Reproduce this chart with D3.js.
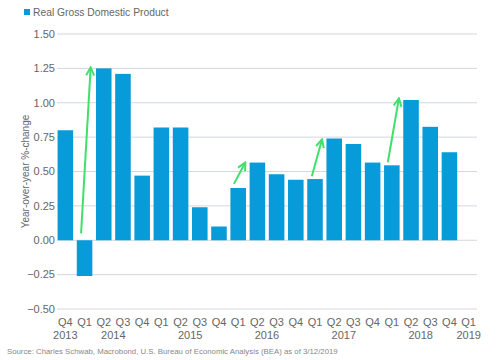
<!DOCTYPE html>
<html><head><meta charset="utf-8">
<script src="https://cdn.jsdelivr.net/npm/d3@7"></script>
<style>body{margin:0;background:#fff}svg{display:block}text{font-family:Arial,"Liberation Sans",sans-serif}</style>
</head><body><svg id="c" width="500" height="360"></svg>
<script>
const quarters = ["Q4","Q1","Q2","Q3","Q4","Q1","Q2","Q3","Q4","Q1","Q2","Q3","Q4","Q1","Q2","Q3","Q4","Q1","Q2","Q3","Q4","Q1"];
const years = ["2013","2014","2014","2014","2014","2015","2015","2015","2015","2016","2016","2016","2016","2017","2017","2017","2017","2018","2018","2018","2018","2019"];
const gdp = [0.80,-0.26,1.25,1.21,0.47,0.82,0.82,0.24,0.10,0.38,0.565,0.48,0.44,0.445,0.74,0.70,0.565,0.545,1.02,0.825,0.64,null];
const yTicks = [-0.5,-0.25,0,0.25,0.5,0.75,1.0,1.25,1.5];
// arrows: [fromIndex, fromValue, toIndex, toValue] (index in quarter slots)
const arrows = [[1.26,0.05,1.76,1.25],[9.27,0.41,9.84,0.56],[13.35,0.465,13.87,0.727],[17.33,0.567,17.9,1.025]];

const svg = d3.select("#c");
const L=57,R=477,T=34,B=309;
const keys = quarters.map((q,i)=>i);
const x = d3.scaleBand().domain(keys).range([L,R]).paddingInner(0.19).paddingOuter(0.03);
const xi = d3.scaleLinear().domain([0,quarters.length]).range([L,R]);
const y = d3.scaleLinear().domain([-0.5,1.5]).range([B,T]);

// grid
svg.append("g").selectAll("line").data(yTicks).join("line")
  .attr("x1",L).attr("x2",R).attr("y1",d=>y(d)).attr("y2",d=>y(d))
  .attr("stroke","#d3d7de").attr("stroke-width",1);
svg.append("g").selectAll("text").data(yTicks).join("text")
  .attr("x",L-2).attr("y",d=>y(d)).attr("dy","0.35em").attr("text-anchor","end")
  .attr("font-size",11).attr("fill","#666").text(d=>d3.format(".2f")(d));

// bars
svg.append("g").selectAll("rect").data(gdp.map((v,i)=>({v,i})).filter(d=>d.v!==null)).join("rect")
  .attr("x",d=>x(d.i)).attr("width",x.bandwidth())
  .attr("y",d=>y(Math.max(0,d.v))).attr("height",d=>Math.abs(y(d.v)-y(0)))
  .attr("fill","#079bd9");

// x labels
svg.append("g").selectAll("text").data(quarters).join("text")
  .attr("x",(d,i)=>x(i)+x.bandwidth()/2).attr("y",326).attr("text-anchor","middle")
  .attr("font-size",11).attr("fill","#666").text(d=>d);
const yearPos = [];
const uniq = [...new Set(years)];
uniq.forEach(yr=>{
  const idx = years.map((v,i)=>v===yr?i:-1).filter(i=>i>=0);
  const c = (x(idx[0])+x(idx[idx.length-1])+x.bandwidth())/2;
  yearPos.push({yr,c});
});
svg.append("g").selectAll("text").data(yearPos).join("text")
  .attr("x",d=>d.c).attr("y",339).attr("text-anchor","middle")
  .attr("font-size",11).attr("fill","#666").text(d=>d.yr);

// y title
svg.append("text").attr("transform",`translate(29,${(T+B)/2}) rotate(-90)`)
  .attr("text-anchor","middle").attr("font-size",10).attr("fill","#666").text("Year-over-year %-change");

// arrows
const defs = svg.append("defs");
defs.append("marker").attr("id","ah").attr("viewBox","0 0 10 10").attr("refX",8).attr("refY",5)
  .attr("markerWidth",5).attr("markerHeight",5).attr("orient","auto")
  .append("path").attr("d","M1,1 L9,5 L1,9").attr("fill","none").attr("stroke","#3fe06c").attr("stroke-width",2);
svg.append("g").selectAll("line").data(arrows).join("line")
  .attr("x1",d=>xi(d[0])).attr("y1",d=>y(d[1])).attr("x2",d=>xi(d[2])).attr("y2",d=>y(d[3]))
  .attr("stroke","#3fe06c").attr("stroke-width",2).attr("marker-end","url(#ah)");

// legend
svg.append("rect").attr("x",24).attr("y",9).attr("width",6).attr("height",6).attr("fill","#079bd9");
svg.append("text").attr("x",33).attr("y",16).attr("font-size",10.3).attr("fill","#666").text("Real Gross Domestic Product");

// source
svg.append("text").attr("x",7).attr("y",354).attr("font-size",7.8).attr("fill","#888")
  .text("Source: Charles Schwab, Macrobond, U.S. Bureau of Economic Analysis (BEA) as of 3/12/2019");
</script></body></html>
